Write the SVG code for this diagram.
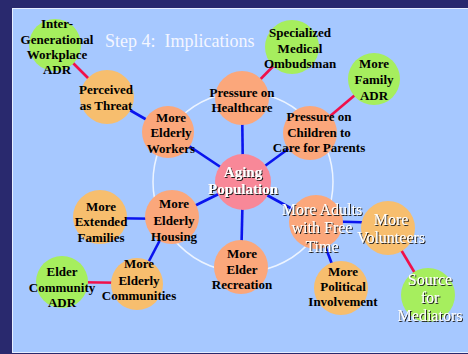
<svg xmlns="http://www.w3.org/2000/svg" width="468" height="354" viewBox="0 0 468 354">
  <style>
    .panel { fill: #A6C8FF; stroke: #E6EEFF; stroke-width: 1; }
    .ring { fill: none; stroke: #F4F8FF; stroke-width: 1.5; opacity: 0.9; }
    .blue { stroke: #0A14EE; stroke-width: 2.6; fill: none; }
    .red { stroke: #F0104A; stroke-width: 2.6; fill: none; }
    .green { fill: #A6EE5E; }
    .orange { fill: #F7BE6E; }
    .salmon { fill: #FBA77B; }
    .pink { fill: #F88898; }
    text { font-family: "Liberation Serif", "Times New Roman", serif; text-anchor: middle; }
    .t { font-size: 13px; font-weight: bold; fill: #000; }
    .w { font-size: 16px; fill: #FFFFFF; filter: url(#shadow); }
    .wb { font-size: 15px; font-weight: bold; fill: #FFFFFF; filter: url(#shadow); }
    .title { font-size: 18px; fill: #F4F6FF; text-anchor: start; white-space: pre; }
  </style>
  <defs>
    <filter id="shadow" x="-10%" y="-20%" width="130%" height="150%">
      <feDropShadow dx="1" dy="1" stdDeviation="0" flood-color="#1A1A1A" flood-opacity="1"/>
    </filter>
  </defs>

  <!-- frame and panel -->
  <rect x="0" y="0" width="468" height="354" fill="#29296E"/>
  <rect class="panel" x="12.5" y="8.5" width="460" height="344"/>

  <text class="title" x="105" y="47" xml:space="preserve">Step 4:  Implications</text>

  <circle class="ring" cx="243" cy="182" r="90"/>

  <g id="connectors">
    <!-- hub spokes -->
    <line class="blue" x1="243" y1="182" x2="242" y2="98"/>
    <line class="blue" x1="243" y1="182" x2="168" y2="132"/>
    <line class="blue" x1="243" y1="182" x2="310" y2="133"/>
    <line class="blue" x1="243" y1="182" x2="172" y2="217"/>
    <line class="blue" x1="243" y1="182" x2="316" y2="222"/>
    <line class="blue" x1="243" y1="182" x2="241" y2="267"/>
    <!-- secondary links -->
    <line class="blue" x1="107" y1="97" x2="168" y2="132"/>
    <line class="blue" x1="100" y1="218" x2="172" y2="219"/>
    <line class="blue" x1="172" y1="217" x2="137" y2="284"/>
    <line class="blue" x1="316" y1="221" x2="388" y2="223"/>
    <line class="blue" x1="316" y1="222" x2="341" y2="288"/>
    <!-- ADR / mediation links -->
    <line class="red" x1="55" y1="45" x2="107" y2="97"/>
    <line class="red" x1="292" y1="47" x2="242" y2="98"/>
    <line class="red" x1="374" y1="79" x2="310" y2="133"/>
    <line class="red" x1="62" y1="282" x2="137" y2="283"/>
    <line class="red" x1="388" y1="228" x2="428" y2="295"/>
  </g>

  <g id="n-intergen">
    <circle class="green" cx="55" cy="45" r="26"/>
    <text class="t"><tspan x="57" y="28">Inter-</tspan><tspan x="57" y="44">Generational</tspan><tspan x="57" y="59">Workplace</tspan><tspan x="57" y="74">ADR</tspan></text>
  </g>
  <g id="n-threat">
    <circle class="orange" cx="107" cy="97" r="27"/>
    <text class="t"><tspan x="106" y="94">Perceived</tspan><tspan x="106" y="110">as Threat</tspan></text>
  </g>
  <g id="n-specialized">
    <circle class="green" cx="292" cy="47" r="27"/>
    <text class="t"><tspan x="300" y="37">Specialized</tspan><tspan x="300" y="53">Medical</tspan><tspan x="300" y="68">Ombudsman</tspan></text>
  </g>
  <g id="n-family">
    <circle class="green" cx="374" cy="79" r="26"/>
    <text class="t"><tspan x="374" y="68">More</tspan><tspan x="374" y="84">Family</tspan><tspan x="374" y="100">ADR</tspan></text>
  </g>
  <g id="n-healthcare">
    <circle class="salmon" cx="242" cy="98" r="27"/>
    <text class="t"><tspan x="242" y="97">Pressure on</tspan><tspan x="242" y="112">Healthcare</tspan></text>
  </g>
  <g id="n-workers">
    <circle class="salmon" cx="168" cy="132" r="26"/>
    <text class="t"><tspan x="171" y="122">More</tspan><tspan x="171" y="137">Elderly</tspan><tspan x="171" y="153">Workers</tspan></text>
  </g>
  <g id="n-children">
    <circle class="salmon" cx="310" cy="133" r="27"/>
    <text class="t"><tspan x="319" y="121">Pressure on</tspan><tspan x="319" y="137">Children to</tspan><tspan x="319" y="152">Care for Parents</tspan></text>
  </g>
  <g id="n-aging">
    <circle class="pink" cx="243" cy="182" r="28"/>
    <text class="wb"><tspan x="243" y="177">Aging</tspan><tspan x="243" y="194">Population</tspan></text>
  </g>
  <g id="n-extended">
    <circle class="orange" cx="100" cy="217" r="27"/>
    <text class="t"><tspan x="101" y="211">More</tspan><tspan x="101" y="226">Extended</tspan><tspan x="101" y="242">Families</tspan></text>
  </g>
  <g id="n-housing">
    <circle class="salmon" cx="172" cy="217" r="27"/>
    <text class="t"><tspan x="174" y="208">More</tspan><tspan x="174" y="225">Elderly</tspan><tspan x="174" y="241">Housing</tspan></text>
  </g>
  <g id="n-adults">
    <circle class="salmon" cx="316" cy="222" r="27"/>
    <text class="w"><tspan x="322" y="215">More Adults</tspan><tspan x="322" y="233">with Free</tspan><tspan x="322" y="252">Time</tspan></text>
  </g>
  <g id="n-volunteers">
    <circle class="orange" cx="388" cy="228" r="27"/>
    <text class="w"><tspan x="391" y="225">More</tspan><tspan x="391" y="243">Volunteers</tspan></text>
  </g>
  <g id="n-recreation">
    <circle class="salmon" cx="241" cy="267" r="27"/>
    <text class="t"><tspan x="242" y="258">More</tspan><tspan x="242" y="274">Elder</tspan><tspan x="242" y="289">Recreation</tspan></text>
  </g>
  <g id="n-political">
    <circle class="orange" cx="341" cy="288" r="27"/>
    <text class="t"><tspan x="343" y="276">More</tspan><tspan x="343" y="291">Political</tspan><tspan x="343" y="306">Involvement</tspan></text>
  </g>
  <g id="n-source">
    <circle class="green" cx="428" cy="295" r="27"/>
    <text class="w"><tspan x="430" y="285">Source</tspan><tspan x="430" y="303">for</tspan><tspan x="430" y="321">Mediators</tspan></text>
  </g>
  <g id="n-communities">
    <circle class="orange" cx="137" cy="284" r="26"/>
    <text class="t"><tspan x="139" y="268">More</tspan><tspan x="139" y="285">Elderly</tspan><tspan x="139" y="300">Communities</tspan></text>
  </g>
  <g id="n-eldercomm">
    <circle class="green" cx="62" cy="282" r="26"/>
    <text class="t"><tspan x="62" y="276">Elder</tspan><tspan x="62" y="292">Community</tspan><tspan x="62" y="307">ADR</tspan></text>
  </g>
</svg>
